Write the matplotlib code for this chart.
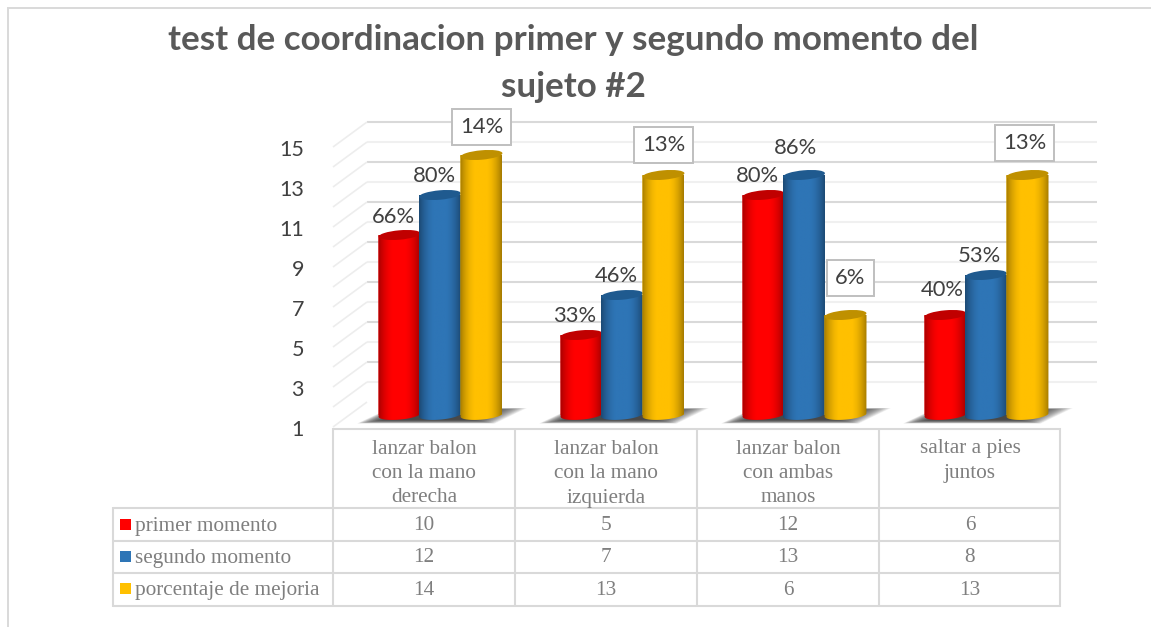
import numpy as np
import matplotlib
matplotlib.use("Agg")
import matplotlib.pyplot as plt
from matplotlib.colors import LinearSegmentedColormap
from matplotlib.patches import Ellipse, Polygon, Rectangle
from matplotlib.transforms import Affine2D

categories = [["lanzar balon", "con la mano", "derecha"],
              ["lanzar balon", "con la mano", "izquierda"],
              ["lanzar balon", "con ambas", "manos"],
              ["saltar a pies", "juntos"]]
series_names = ["primer momento", "segundo momento", "porcentaje de mejoria"]
primer = [10, 5, 12, 6]
segundo = [12, 7, 13, 8]
mejoria = [14, 13, 6, 13]
pct_primer = ["66%", "33%", "80%", "40%"]
pct_segundo = ["80%", "46%", "86%", "53%"]
pct_mejoria = ["14%", "13%", "6%", "13%"]
y_ticks = [1, 3, 5, 7, 9, 11, 13, 15]
title_lines = ["test de coordinacion primer y segundo momento del", "sujeto #2"]

W, H = 1151, 627
SANS = "Lato"
SERIF = "Liberation Serif"
TABLE = "#D9D9D9"
TXT = "#7F7F7F"

# pixel <-> data helpers: one category = 182 px, one unit = 20 px
def X(px): return (px - 424) / 182
def Y(py): return (435 - py) / 20
def PX(x): return x * 182 + 424
def PY(v): return 435 - v * 20

fig = plt.figure(figsize=(W / 100, H / 100), dpi=100, facecolor="white")
ax = fig.add_axes([0, 0, 1, 1])
ax.set_xlim(X(0), X(W))
ax.set_ylim(Y(H), Y(0))
ax.axis("off")

def hline(py, x0, x1, c, lw, z=1):
    ax.plot([X(x0), X(x1)], [Y(py), Y(py)], color=c, lw=lw, zorder=z, solid_capstyle="butt")
def seg(x0, y0, x1, y1, c, lw, z=1):
    ax.plot([X(x0), X(x1)], [Y(y0), Y(y1)], color=c, lw=lw, zorder=z, solid_capstyle="butt")

# outer frame
seg(7.5, 8, 7.5, H, "#D9D9D9", 1.4)
seg(7, 8, W, 8, "#D9D9D9", 1.4)

# title
for line, py in zip(title_lines, [39.5, 87]):
    ax.text(X(573.5), Y(py), line, family=SANS, weight="bold", fontsize=25.2, color="#595959",
            ha="center", va="center")

# 3D walls
for v in range(1, 16):
    major = (v % 2 == 1)
    c = "#D9D9D9" if major else "#F0F0F0"
    if v > 1:
        hline(422 - 20 * v, 367, 1097, c, 1.5)
    seg(333, 447 - 20 * v, 367, 422 - 20 * v, "#EDEDED", 1.2)

# y tick labels
for t in y_ticks:
    ax.text(X(304), Y(450 - 20 * t), str(t), family=SANS, fontsize=15.5, color="#404040",
            ha="right", va="center")

# cylinders
cfg = [
    ("#FF0000", "#A80000", "#C00000"),
    ("#2E75B6", "#1C4A75", "#1F5A8F"),
    ("#FFC000", "#A67C00", "#BF9000"),
]
profile = np.array([0, .06, .14, .24, .34, .66, .76, .86, .94, 1.0])
strength = np.array([1, .72, .42, .15, 0, 0, .15, .42, .72, 1])
bar_w = 42 / 182
offset = np.array([-40.5, 0, 41.5]) / 182
shift = 16 / 182

def disp(x, v):
    return ax.transData.transform((x, v))

def tilted(center_xy, w, h, angle, **kw):
    t = Affine2D().translate(*center_xy)
    return Ellipse((0, 0), w, h, angle=angle, transform=t, **kw)

def cylinder(xc, v, idx, z):
    main, edge, top = cfg[idx]
    bar = ax.bar(xc, v - 1, bottom=1, width=bar_w, color=main, zorder=z, linewidth=0)[0]
    cmap = LinearSegmentedColormap.from_list("c", [main, edge])
    grad = np.interp(np.linspace(0, 1, 64), profile, strength)[None, :]
    x0, x1 = xc - bar_w / 2, xc + bar_w / 2
    im = ax.imshow(grad, extent=[x0, x1, 0.5, v], cmap=cmap, vmin=0, vmax=1, aspect="auto",
                   interpolation="bilinear", zorder=z + .1)
    th = np.linspace(np.pi, 2 * np.pi, 40)
    a = np.deg2rad(5)
    ex, ey = 21 * np.cos(th), 4.6 * np.sin(th)
    bx = PX(xc) + ex * np.cos(a) - ey * np.sin(a)
    by = PY(1) - (ex * np.sin(a) + ey * np.cos(a))
    vx = np.r_[X(PX(x0)), X(bx), X(PX(x1))]
    vy = np.r_[v, Y(by), v]
    clip = Polygon(np.c_[vx, vy], closed=True, transform=ax.transData)
    im.set_clip_path(clip)
    bar.set_clip_path(clip)
    ax.add_patch(tilted(disp(xc, v), 42, 9.4, 5, facecolor=top, edgecolor="none", zorder=z + .2))

def shadow(xc):
    c = PX(xc)
    n = 40
    for k in range(n):
        f = k / (n - 1)
        pts = [(c - 50 + 16 * f, 408 + 2.5 * f), (c + 87 - 42 * f, 408 + 2.5 * f),
               (c + 55 - 26 * f, 423.5 - 4 * f), (c - 83 + 30 * f, 423.5 - 4 * f)]
        ax.add_patch(Polygon([(X(p), Y(q)) for p, q in pts], closed=True, facecolor="#383838",
                             edgecolor="none", alpha=0.05, zorder=2))

all_series = [primer, segundo, mejoria]
all_pct = [pct_primer, pct_segundo, pct_mejoria]
label_dx = [[-6.5, -6.5, -6.5, -3], [-6, -6, -8, -7], [0, 0, 5, -3]]
label_dy = [[18, 19, 19, 25], [19, 19, 27, 19], [28, 30, 37, 32]]

fig.canvas.draw()
for i in range(len(categories)):
    shadow(i + shift)
    for s, vals in enumerate(all_series):
        cylinder(i + shift + offset[s], vals[i], s, 3 + s)
ax.set_xlim(X(0), X(W))
ax.set_ylim(Y(H), Y(0))

# data labels
for s, (vals, pct) in enumerate(zip(all_series, all_pct)):
    for i, v in enumerate(vals):
        boxed = s == 2
        xc = i + shift + offset[s]
        ax.annotate(pct[i], (xc, v), xytext=(label_dx[s][i] * .72, label_dy[s][i] * .72),
                    textcoords="offset points", family=SANS, fontsize=15.8, color="#404040",
                    ha="center", va="center", zorder=10,
                    bbox=dict(boxstyle="square,pad=0.36", fc="white", ec="#BFBFBF", lw=1.4) if boxed else None)

# data table
cols = [333, 515, 697, 879, 1060]
rows = [508, 540.5, 573, 606]
lw = 1.5
hline(429, 332, 1061, TABLE, lw)
for py in rows:
    hline(py, 113, 1061, TABLE, lw)
seg(113, 507, 113, 607, TABLE, lw)
for x in cols:
    seg(x, 428, x, 607, TABLE, lw)

for i, lines in enumerate(categories):
    for j, line in enumerate(lines):
        ax.text(i, Y(449 + 24.5 * j), line, family=SERIF, fontsize=15.3, color=TXT, ha="center", va="center")

row_y = [526, 558, 590.5]
key_y = [524, 556, 588]
colors = [c[0] for c in cfg]
for r, (name, vals) in enumerate(zip(series_names, all_series)):
    ax.add_patch(Rectangle((X(120), Y(key_y[r] + 5.5)), 11 / 182, 11 / 20, facecolor=colors[r], edgecolor="none"))
    ax.text(X(135), Y(row_y[r]), name, family=SERIF, fontsize=15.3, color=TXT, ha="left", va="center")
    for i, v in enumerate(vals):
        ax.text(i, Y(row_y[r]), str(v), family=SERIF, fontsize=15.3, color=TXT, ha="center", va="center")

fig.savefig("out.png", dpi=100, facecolor="white")
